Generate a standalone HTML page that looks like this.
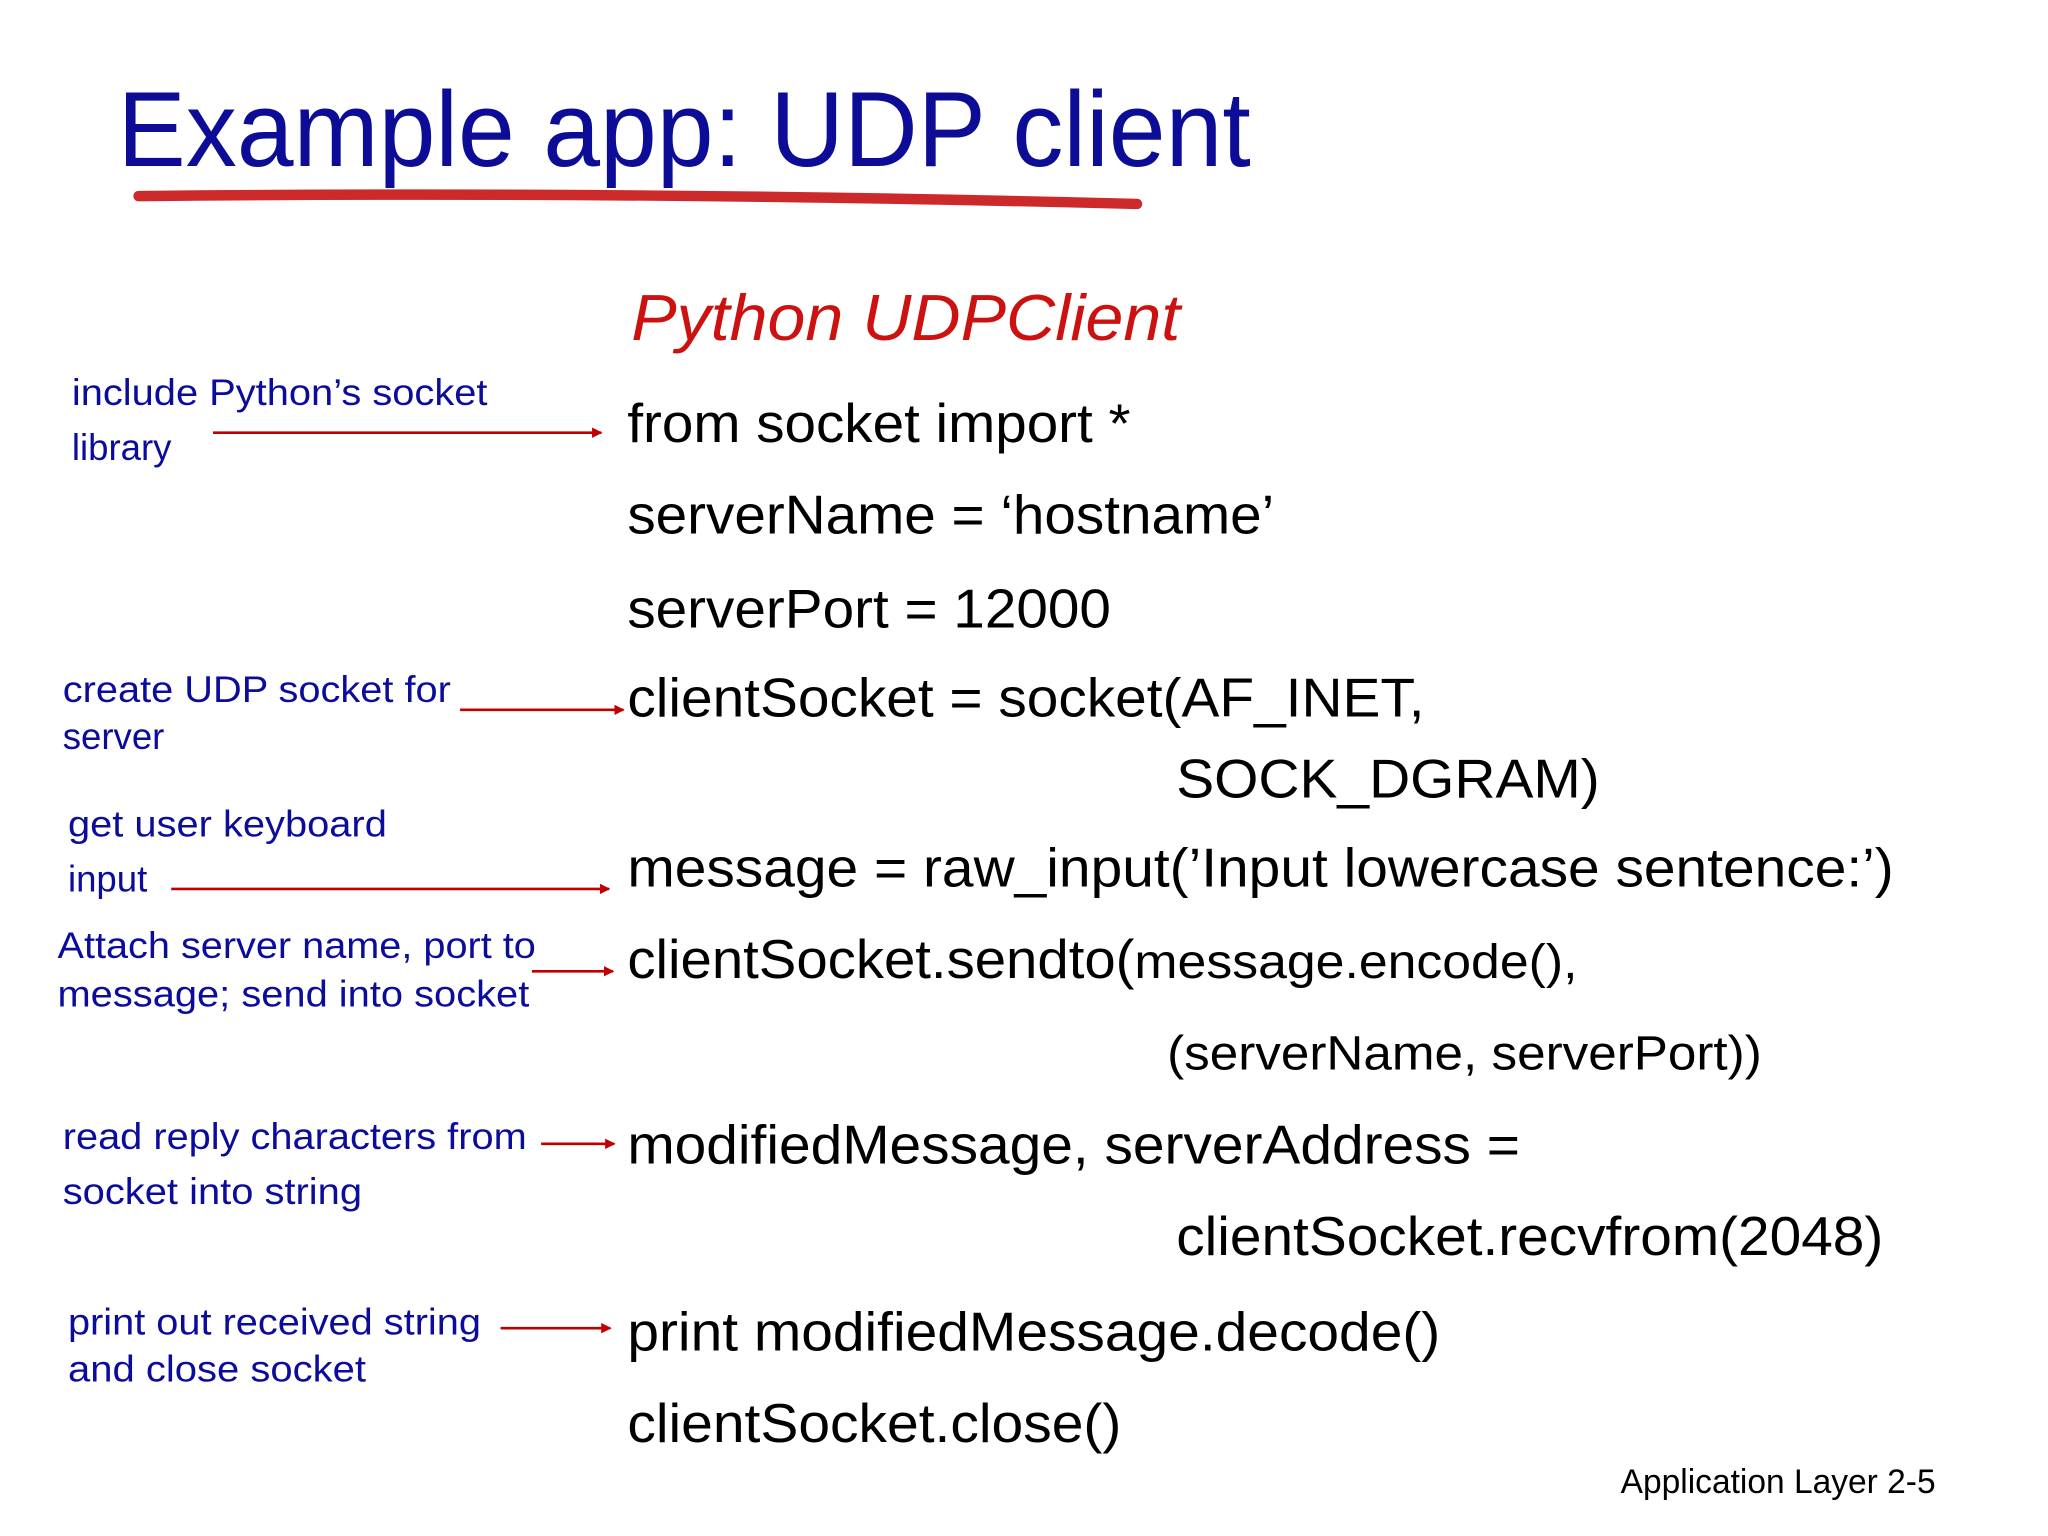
<!DOCTYPE html>
<html><head><meta charset="utf-8"><style>
html,body{margin:0;padding:0;background:#fff;}
svg{display:block;}
.c{font-family:"Liberation Sans",sans-serif;fill:#000;font-size:42px;}
.a{font-family:"Liberation Sans",sans-serif;fill:#0c0c9c;font-size:28px;}
</style></head><body>
<svg width="2048" height="1536" viewBox="0 0 1567 1175" preserveAspectRatio="none" xmlns="http://www.w3.org/2000/svg">
<defs><marker id="m" markerWidth="8" markerHeight="8" refX="7" refY="4" orient="auto" markerUnits="userSpaceOnUse"><path d="M0,0 L8,4 L0,8 z" fill="#c00000"/></marker></defs>
<rect width="1567" height="1175" fill="#fff"/>
<text x="90" y="127" font-family="Liberation Sans,sans-serif" font-size="82" fill="#0c0c96" textLength="867" lengthAdjust="spacingAndGlyphs">Example app: UDP client</text>
<path d="M106,150 Q480,146 870,156" stroke="#cc2a2a" stroke-width="8" fill="none" stroke-linecap="round"/>
<text x="483" y="260" font-family="Liberation Sans,sans-serif" font-style="italic" font-size="50" fill="#cc1111" textLength="420" lengthAdjust="spacingAndGlyphs">Python UDPClient</text>
<text class="c" x="480" y="338" textLength="385" lengthAdjust="spacingAndGlyphs">from socket import *</text>
<text class="c" x="480" y="408" textLength="495" lengthAdjust="spacingAndGlyphs">serverName = ‘hostname’</text>
<text class="c" x="480" y="480" textLength="370" lengthAdjust="spacingAndGlyphs">serverPort = 12000</text>
<text class="c" x="480" y="548" textLength="610" lengthAdjust="spacingAndGlyphs">clientSocket = socket(AF_INET,</text>
<text class="c" x="900" y="610" textLength="324" lengthAdjust="spacingAndGlyphs">SOCK_DGRAM)</text>
<text class="c" x="480" y="678" textLength="969" lengthAdjust="spacingAndGlyphs">message = raw_input(’Input lowercase sentence:’)</text>
<text class="c" x="480" y="748" textLength="388" lengthAdjust="spacingAndGlyphs">clientSocket.sendto(</text>
<text class="c" x="868" y="748" style="font-size:37px" textLength="339" lengthAdjust="spacingAndGlyphs">message.encode(),</text>
<text class="c" x="893" y="818" style="font-size:37px" textLength="455" lengthAdjust="spacingAndGlyphs">(serverName, serverPort))</text>
<text class="c" x="480" y="890" textLength="683" lengthAdjust="spacingAndGlyphs">modifiedMessage, serverAddress =</text>
<text class="c" x="900" y="960" textLength="541" lengthAdjust="spacingAndGlyphs">clientSocket.recvfrom(2048)</text>
<text class="c" x="480" y="1033" textLength="622" lengthAdjust="spacingAndGlyphs">print modifiedMessage.decode()</text>
<text class="c" x="480" y="1103" textLength="378" lengthAdjust="spacingAndGlyphs">clientSocket.close()</text>
<text class="c" x="1240" y="1142" style="font-size:26px" textLength="241" lengthAdjust="spacingAndGlyphs">Application Layer 2-5</text>

<text class="a" x="55" y="310" textLength="318" lengthAdjust="spacingAndGlyphs">include Python’s socket</text>
<text class="a" x="55" y="352">library</text>
<text class="a" x="48" y="537" textLength="297" lengthAdjust="spacingAndGlyphs">create UDP socket for</text>
<text class="a" x="48" y="573">server</text>
<text class="a" x="52" y="640" textLength="244" lengthAdjust="spacingAndGlyphs">get user keyboard</text>
<text class="a" x="52" y="682">input</text>
<text class="a" x="44" y="733" textLength="366" lengthAdjust="spacingAndGlyphs">Attach server name, port to</text>
<text class="a" x="44" y="770" textLength="361" lengthAdjust="spacingAndGlyphs">message; send into socket</text>
<text class="a" x="48" y="879" textLength="355" lengthAdjust="spacingAndGlyphs">read reply characters from</text>
<text class="a" x="48" y="921" textLength="229" lengthAdjust="spacingAndGlyphs">socket into string</text>
<text class="a" x="52" y="1021" textLength="316" lengthAdjust="spacingAndGlyphs">print out received string</text>
<text class="a" x="52" y="1057" textLength="228" lengthAdjust="spacingAndGlyphs">and close socket</text>

<g stroke="#c00000" stroke-width="2" marker-end="url(#m)">
<line x1="163" y1="331" x2="460" y2="331"/>
<line x1="352" y1="543" x2="477" y2="543"/>
<line x1="131" y1="680" x2="466" y2="680"/>
<line x1="407" y1="743" x2="469" y2="743"/>
<line x1="414" y1="875" x2="470" y2="875"/>
<line x1="383" y1="1016" x2="467" y2="1016"/>
</g>
</svg>
</body></html>
